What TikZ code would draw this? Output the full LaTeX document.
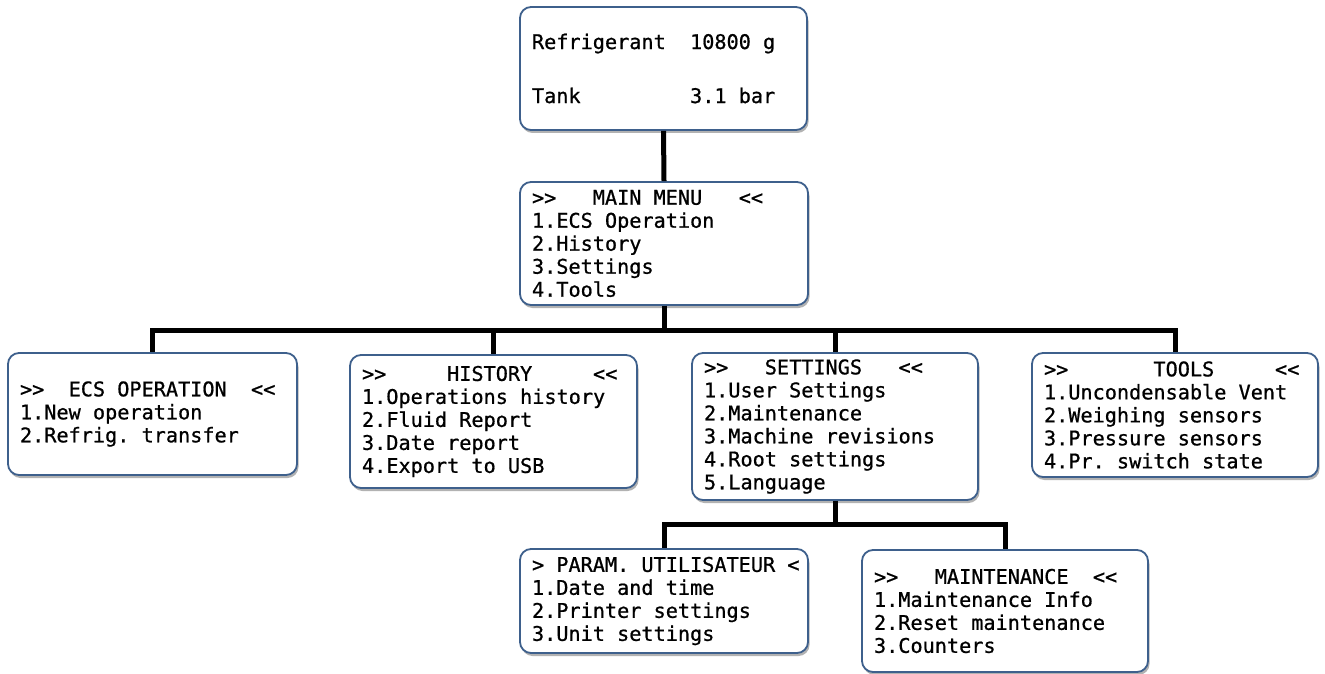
\documentclass[tikz,border=0pt]{standalone}
\usepackage{fontspec}
\newfontfamily\lcdfam{DejaVu Sans Mono}[FakeBold=0.8]
\usetikzlibrary{shadows}
\definecolor{boxblue}{RGB}{62,96,140}
\newcommand\lcdfont{\lcdfam\fontsize{20.2}{23}\selectfont}
\newcommand\sk{\hphantom{0}}
\tikzset{
  screen/.style={draw=boxblue, line width=1.8pt, fill=white, rounded corners=11pt,
    inner xsep=12pt, inner ysep=0pt, align=left,
    font=\lcdfont,
    drop shadow={shadow xshift=1.5pt, shadow yshift=-3pt, fill=black!60, opacity=0.5}},
  conn/.style={line width=5pt, black}
}
\begin{document}
\begin{tikzpicture}[x=1pt,y=-1pt]
\useasboundingbox (0,0) rectangle (1325,674);
\node[screen, text width=263pt, minimum height=123pt] (top) at (663.5,68.5)
  {Refrigerant\sk\sk10800\sk g\\[31pt]Tank\sk\sk\sk\sk\sk\sk\sk\sk\sk3.1\sk bar};
\node[screen, text width=264pt, minimum height=123pt] (main) at (664,243.5)
  {>>\sk\sk\sk MAIN\sk MENU\sk\sk\sk<<\\1.ECS\sk Operation\\2.History\\3.Settings\\4.Tools};
\node[screen, text width=265pt, minimum height=122pt] (ecs) at (152.5,414)
  {>>\sk\sk ECS\sk OPERATION\sk\sk<<\\1.New\sk operation\\2.Refrig.\sk transfer};
\node[screen, text width=263pt, minimum height=133pt] (hist) at (493.5,421.5)
  {>>\sk\sk\sk\sk\sk HISTORY\sk\sk\sk\sk\sk<<\\1.Operations\sk history\\2.Fluid\sk Report\\3.Date\sk report\\4.Export\sk to\sk USB};
\node[screen, text width=262pt, minimum height=147pt] (sett) at (835,426.5)
  {>>\sk\sk\sk SETTINGS\sk\sk\sk<<\\1.User\sk Settings\\2.Maintenance\\3.Machine\sk revisions\\4.Root\sk settings\\5.Language};
\node[screen, text width=262pt, minimum height=124pt] (tools) at (1175,415)
  {>>\sk\sk\sk\sk\sk\sk\sk TOOLS\sk\sk\sk\sk\sk<<\\1.Uncondensable\sk Vent\\2.Weighing\sk sensors\\3.Pressure\sk sensors\\4.Pr.\sk switch\sk state};
\node[screen, text width=264pt, minimum height=104pt] (param) at (664,601)
  {>\sk PARAM.\sk UTILISATEUR\sk<\\1.Date\sk and\sk time\\2.Printer\sk settings\\3.Unit\sk settings};
\node[screen, text width=262pt, minimum height=122pt] (maint) at (1005,611)
  {>>\sk\sk\sk MAINTENANCE\sk\sk<<\\1.Maintenance\sk Info\\2.Reset\sk maintenance\\3.Counters};
\coordinate (bus) at (0,330);
\coordinate (bus2) at (0,524);
\draw[conn] (top.south) -- (main.north);
\foreach \c in {ecs,hist,sett,tools}
  \draw[conn] (main.south) -- (main.south |- bus) -| (\c.north);
\foreach \c in {param,maint}
  \draw[conn] (sett.south) -- (sett.south |- bus2) -| (\c.north);
\end{tikzpicture}
\end{document}
